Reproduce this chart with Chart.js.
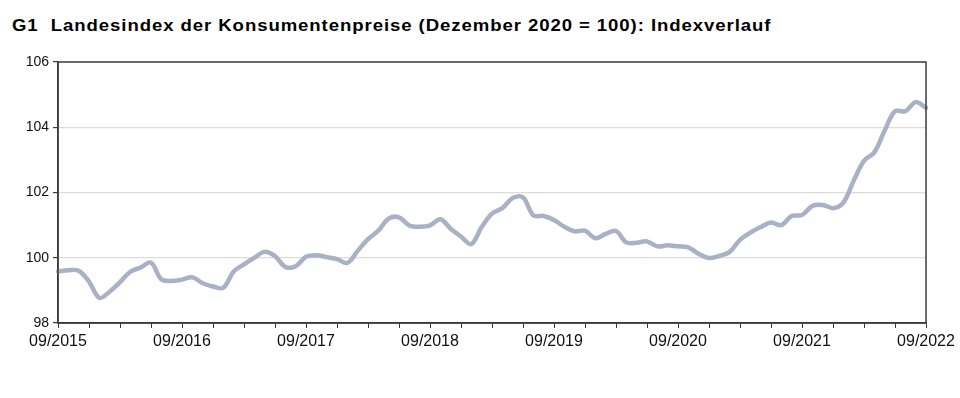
<!DOCTYPE html>
<html>
<head>
<meta charset="utf-8">
<script src="https://cdn.jsdelivr.net/npm/chart.js@4"></script>
<style>
  html, body { margin: 0; padding: 0; background: #fff; }
  #wrap { position: relative; width: 960px; height: 398px; }
  #title {
    position: absolute; left: 12px; top: 17px;
    font: bold 16px 'Liberation Sans', Arial, sans-serif;
    letter-spacing: 0.8px; color: #000; white-space: pre;
    transform: scaleX(1.16); transform-origin: left top;
  }
  canvas { position: absolute; left: 0; top: 0; }
</style>
</head>
<body>
<div id="wrap">
  <div id="title">G1  Landesindex der Konsumentenpreise (Dezember 2020 = 100): Indexverlauf</div>
  <canvas id="c" width="960" height="398"></canvas>
</div>
<script>
'use strict';

// ── Data ──────────────────────────────────────────────────────────
// monthly index, 09/2015 … 09/2022 (Dezember 2020 = 100)
const indexValues = [
  99.58, 99.62, 99.60, 99.27, 98.77, 98.96, 99.25, 99.57, 99.70, 99.85, 99.34, 99.29,
  99.33, 99.40, 99.22, 99.12, 99.08, 99.58, 99.80, 100.00, 100.18, 100.05, 99.72, 99.74,
  100.03, 100.08, 100.02, 99.96, 99.84, 100.21, 100.57, 100.83, 101.20, 101.24, 100.99, 100.95,
  100.99, 101.18, 100.89, 100.65, 100.42, 100.94, 101.35, 101.52, 101.83, 101.85, 101.30, 101.28,
  101.16, 100.95, 100.81, 100.83, 100.60, 100.73, 100.82, 100.47, 100.46, 100.50, 100.35, 100.38,
  100.35, 100.32, 100.12, 99.99, 100.06, 100.18, 100.55, 100.77, 100.94, 101.08, 101.00, 101.28,
  101.31, 101.59, 101.62, 101.52, 101.69, 102.36, 102.97, 103.23, 103.90, 104.49, 104.49, 104.77,
  104.60
];
const monthNames = ['09','10','11','12','01','02','03','04','05','06','07','08'];
const firstYear = 2015;
const yTicks = [98, 100, 102, 104, 106];

const months = indexValues.map((_, i) => {
  const mm = monthNames[i % 12];
  const yy = firstYear + Math.floor((i + 8) / 12);
  return `${mm}/${yy}`;
});

const FONT = "'Liberation Sans', Arial, sans-serif";
const FRAME = '#3a3a3a';

// frame round the plot area (top and right side)
const framePlugin = {
  id: 'frame',
  afterDatasetsDraw(chart) {
    const { ctx, chartArea: a } = chart;
    ctx.save();
    ctx.strokeStyle = FRAME;
    ctx.lineWidth = 1.5;
    ctx.strokeRect(a.left, a.top, a.right - a.left, a.bottom - a.top);
    ctx.restore();
  }
};

new Chart(document.getElementById('c').getContext('2d'), {
  type: 'line',
  data: {
    labels: months,
    datasets: [{
      data: indexValues,
      borderColor: '#a9b1c5',
      borderWidth: 4.5,
      pointRadius: 0,
      tension: 0.35,
      borderCapStyle: 'round',
      borderJoinStyle: 'round',
      fill: false
    }]
  },
  options: {
    responsive: false, animation: false,
    layout: { padding: { top: 62, right: 34, left: 0, bottom: 0 } },
    plugins: { legend: { display: false }, tooltip: { enabled: false }, title: { display: false } },
    scales: {
      x: {
        type: 'category', offset: false,
        afterFit: s => { s.height = 75; },
        border: { display: true, color: FRAME, width: 1.5 },
        grid: {
          drawOnChartArea: false, drawTicks: true, tickLength: 5,
          tickColor: c => (c.index % 3 === 0 ? FRAME : 'rgba(0,0,0,0)')
        },
        ticks: {
          autoSkip: false, maxRotation: 0, padding: 4,
          color: '#111', font: { size: 16, family: FONT },
          callback: (v, i) => (i % 12 === 0 ? months[i] : '')
        }
      },
      y: {
        min: yTicks[0], max: yTicks[yTicks.length - 1],
        afterFit: s => { s.width = 58; },
        afterBuildTicks: s => { s.ticks = yTicks.map(v => ({ value: v })); },
        border: { display: true, color: FRAME, width: 1.5 },
        grid: {
          drawTicks: true, tickLength: 5,
          color: c => (c.tick && c.tick.value > 98 && c.tick.value < 106 ? '#dcdcdc' : 'rgba(0,0,0,0)'),
          tickColor: FRAME, lineWidth: 1.2
        },
        ticks: { padding: 4, color: '#111', font: { size: 14, family: FONT } }
      }
    }
  },
  plugins: [framePlugin]
});
</script>
</body>
</html>
